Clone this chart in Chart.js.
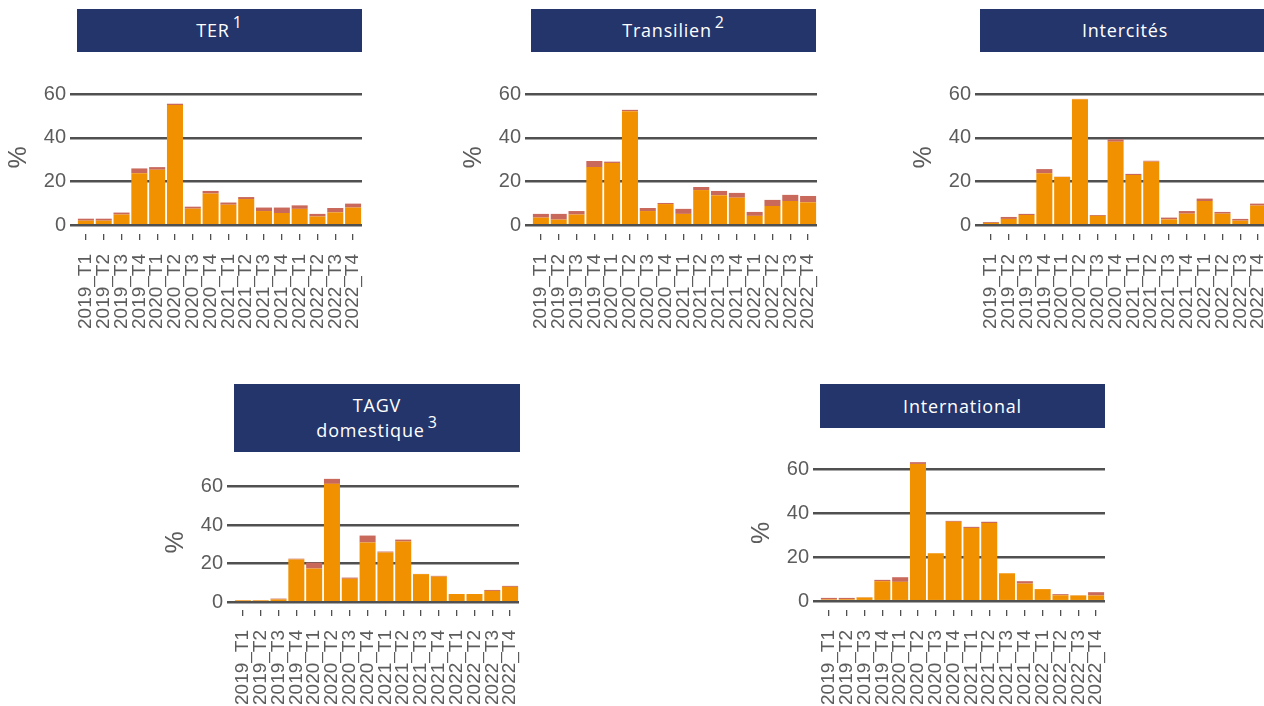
<!DOCTYPE html>
<html lang="fr">
<head>
<meta charset="UTF-8">
<title>Part des trains annulés par trimestre</title>
<script src="https://cdn.jsdelivr.net/npm/chart.js@4"></script>
<style>
  html, body {
    margin: 0;
    padding: 0;
    background: #fff;
    width: 1264px;
    height: 706px;
    overflow: hidden;
  }
  body {
    position: relative;
    font-family: 'Liberation Sans', Arial, sans-serif;
  }
  .strip {
    position: absolute;
    background: #24356b;
    color: #fff;
    font-family: 'Open Sans', sans-serif;
    font-size: 18px;
    letter-spacing: 0.8px;
    display: flex;
    align-items: center;
    justify-content: center;
    text-align: center;
    line-height: 25px;
  }
  .strip sup {
    font-size: 16px;
    line-height: 0;
    vertical-align: 9px;
    margin-left: 3px;
  }
  canvas {
    position: absolute;
  }
</style>
</head>
<body>
  <!-- facet strips -->
  <div class="strip" style="left:77px;top:9px;width:285px;height:43px;"><span>TER<sup>1</sup></span></div>
  <div class="strip" style="left:531px;top:9px;width:285px;height:43px;"><span>Transilien<sup>2</sup></span></div>
  <div class="strip" style="left:980px;top:9px;width:290px;height:43px;"><span>Intercités</span></div>
  <div class="strip" style="left:234px;top:384px;width:286px;height:68px;"><span>TAGV<br>domestique<sup>3</sup></span></div>
  <div class="strip" style="left:820px;top:384px;width:285px;height:44px;"><span>International</span></div>

  <canvas id="ter" width="365" height="273" style="left:0px;top:61px;"></canvas>
  <canvas id="transilien" width="365" height="273" style="left:455px;top:61px;"></canvas>
  <canvas id="intercites" width="365" height="273" style="left:905px;top:61px;"></canvas>
  <canvas id="tagv" width="365" height="255" style="left:157px;top:455px;"></canvas>
  <canvas id="international" width="365" height="274" style="left:743px;top:436px;"></canvas>

<script>
// Categories and axis ticks
const quarters = ['2019_T1', '2019_T2', '2019_T3', '2019_T4',
                  '2020_T1', '2020_T2', '2020_T3', '2020_T4',
                  '2021_T1', '2021_T2', '2021_T3', '2021_T4',
                  '2022_T1', '2022_T2', '2022_T3', '2022_T4'];
const yTicks = [0, 20, 40, 60];

// Values in % (orange part at the bottom, red part stacked on top)
const terBase = [2.1, 2.1, 4.9, 23.8, 25.4, 55.0, 7.6, 14.5, 9.4, 12.0, 6.5, 5.6, 7.5, 4.0, 5.9, 8.1];
const terTop  = [0.9, 0.9, 0.9, 2.2, 1.2, 0.6, 0.9, 1.2, 1.0, 0.9, 1.6, 2.5, 1.6, 1.2, 2.0, 1.8];

const transilienBase = [3.5, 2.6, 4.9, 26.6, 28.5, 52.2, 6.5, 9.7, 5.2, 16.1, 13.7, 12.6, 4.3, 8.8, 11.1, 10.5];
const transilienTop  = [1.7, 2.6, 1.6, 2.8, 0.6, 0.6, 1.4, 0.5, 2.3, 1.4, 2.0, 2.2, 1.8, 2.8, 2.8, 2.9];

const intercitesBase = [1.1, 2.9, 4.7, 23.8, 22.1, 57.7, 4.3, 38.2, 23.0, 29.1, 2.7, 5.3, 11.1, 5.3, 2.1, 9.0];
const intercitesTop  = [0.4, 0.9, 0.5, 1.9, 0.1, 0.1, 0.4, 1.1, 0.5, 0.4, 0.8, 1.2, 1.1, 0.8, 0.8, 0.9];

const tagvBase = [1.0, 1.0, 1.5, 22.2, 17.5, 61.4, 12.2, 31.0, 25.8, 31.5, 14.6, 13.3, 4.3, 4.3, 5.9, 8.0];
const tagvTop  = [0.1, 0.1, 0.4, 0.4, 3.1, 2.6, 0.6, 3.6, 0.5, 1.0, 0.1, 0.4, 0.0, 0.0, 0.5, 0.5];

const internationalBase = [0.8, 0.9, 1.7, 9.1, 8.8, 62.4, 21.8, 36.1, 33.3, 35.5, 12.7, 8.0, 5.5, 2.7, 2.6, 2.6];
const internationalTop  = [0.7, 0.6, 0.1, 0.6, 2.1, 0.8, 0.0, 0.4, 0.5, 0.6, 0.0, 1.1, 0.0, 0.5, 0.1, 1.5];

// Styles
const ORANGE = '#f29100';
const RED = '#c8695b';
const GRID = '#505050';
const TEXT = '#5c5c5c';
const FONT = "'Liberation Sans', Arial, sans-serif";

function drawPanel(id, base, top) {
  new Chart(document.getElementById(id), {
    type: 'bar',
    data: {
      labels: quarters,
      datasets: [
        { data: base, backgroundColor: ORANGE, borderWidth: 0 },
        { data: top, backgroundColor: RED, borderWidth: 0 }
      ]
    },
    options: {
      responsive: false,
      animation: false,
      layout: { padding: { top: 20, right: 3, left: 0, bottom: 0 } },
      plugins: {
        legend: { display: false },
        tooltip: { enabled: false }
      },
      datasets: {
        bar: { categoryPercentage: 1, barPercentage: 0.9 }
      },
      scales: {
        x: {
          stacked: true,
          grid: {
            drawOnChartArea: false,
            offset: false,
            tickLength: 6,
            color: GRID,
            lineWidth: 1.3
          },
          border: { display: false },
          ticks: {
            autoSkip: false,
            minRotation: 90,
            maxRotation: 90,
            padding: 14,
            color: TEXT,
            font: { family: FONT, size: 19 }
          },
          afterFit: (scale) => {
            // fixed axis height, and no extra room for the rotated end labels
            scale.height = 100;
            scale.paddingLeft = 0;
            scale.paddingRight = 0;
          }
        },
        y: {
          stacked: true,
          min: -4,
          max: 66,
          afterBuildTicks: (scale) => {
            scale.ticks = yTicks.map(v => ({ value: v }));
          },
          grid: {
            color: GRID,
            lineWidth: 2.5,
            tickLength: 7
          },
          border: { display: false },
          ticks: {
            padding: 4,
            color: TEXT,
            font: { family: FONT, size: 20 }
          },
          title: {
            display: true,
            text: '%',
            color: TEXT,
            font: { family: FONT, size: 25 },
            padding: { top: 4, bottom: 0 }
          },
          afterFit: (scale) => { scale.width = 77; }
        }
      }
    }
  });
}

drawPanel('ter', terBase, terTop);
drawPanel('transilien', transilienBase, transilienTop);
drawPanel('intercites', intercitesBase, intercitesTop);
drawPanel('tagv', tagvBase, tagvTop);
drawPanel('international', internationalBase, internationalTop);
</script>
</body>
</html>
